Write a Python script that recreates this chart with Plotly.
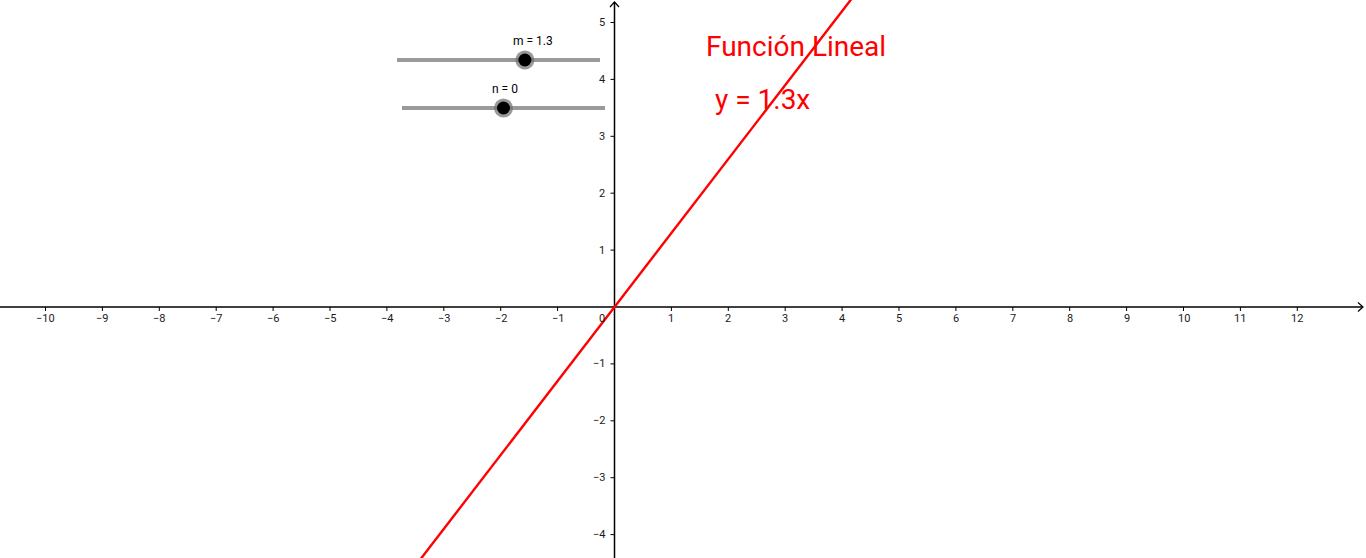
import plotly.graph_objects as go

# ---- data ----
slope_m = 1.3
intercept_n = 0.0
slider_min = -5
slider_max = 5
x_tick_values = [-10, -9, -8, -7, -6, -5, -4, -3, -2, -1, 1, 2, 3, 4, 5, 6, 7, 8, 9, 10, 11, 12]
y_tick_values = [-4, -3, -2, -1, 1, 2, 3, 4, 5]
title_text = "Función Lineal"
equation_text = "y = 1.3x"
m_label = "m = 1.3"
n_label = "n = 0"

# ---- geometry (pixel frame) ----
W, H = 1366, 558
OX, OY = 614.5, 307.0
PPU = 56.9

def dx(px):
    return (px - OX) / PPU

def dy(py):
    return (OY - py) / PPU

x_range = [dx(0), dx(W)]
y_range = [dy(H), dy(0)]

fig = go.Figure()

AX = "#000000"
# axes lines
fig.add_trace(go.Scatter(x=[x_range[0], dx(W - 3)], y=[0, 0], mode="lines",
                         line=dict(color=AX, width=1.5), hoverinfo="skip"))
fig.add_trace(go.Scatter(x=[0, 0], y=[y_range[0], dy(2)], mode="lines",
                         line=dict(color=AX, width=1.5), hoverinfo="skip"))
# arrow chevrons
a = 5 / PPU
xe, ye = dx(W - 3), dy(2)
fig.add_trace(go.Scatter(x=[xe - a, xe, xe - a], y=[a * 0.9, 0, -a * 0.9], mode="lines",
                         line=dict(color=AX, width=1.2), hoverinfo="skip"))
fig.add_trace(go.Scatter(x=[-a * 0.9, 0, a * 0.9], y=[ye - a, ye, ye - a], mode="lines",
                         line=dict(color=AX, width=1.2), hoverinfo="skip"))

# tick marks
t = 4 / PPU
tx, ty = [], []
for v in x_tick_values:
    tx += [v, v, None]
    ty += [0, -t, None]
for v in y_tick_values:
    tx += [0, -t, None]
    ty += [v, v, None]
fig.add_trace(go.Scatter(x=tx, y=ty, mode="lines", line=dict(color=AX, width=1),
                         hoverinfo="skip"))

def lab(v):
    return str(v).replace("-", "\u2212")

tick_font = dict(family="Roboto, DejaVu Sans, sans-serif", size=11, color="#1a1a1a")
annotations = []
for v in x_tick_values:
    annotations.append(dict(x=v, y=dy(318), text=lab(v), showarrow=False,
                            xanchor="center", yanchor="middle", font=tick_font))
for v in y_tick_values:
    annotations.append(dict(x=dx(607), y=v, text=lab(v), showarrow=False,
                            xanchor="right", yanchor="middle", font=tick_font))
annotations.append(dict(x=dx(607), y=dy(318), text="0", showarrow=False,
                        xanchor="right", yanchor="middle", font=tick_font))

# the function line
xs = [x_range[0], x_range[1]]
ys = [slope_m * x + intercept_n for x in xs]
fig.add_trace(go.Scatter(x=xs, y=ys, mode="lines", line=dict(color="#ff0000", width=2.4),
                         hoverinfo="skip"))

# sliders
def slider(val, px0, px1, py, label, label_px, label_py):
    x0, x1, yy = dx(px0), dx(px1), dy(py)
    fig.add_trace(go.Scatter(x=[x0, x1], y=[yy, yy], mode="lines",
                             line=dict(color="#9a9a9a", width=4), hoverinfo="skip"))
    frac = (val - slider_min) / (slider_max - slider_min)
    kx = x0 + frac * (x1 - x0)
    fig.add_trace(go.Scatter(x=[kx], y=[yy], mode="markers",
                             marker=dict(size=19, color="rgba(110,110,110,0.7)"),
                             hoverinfo="skip"))
    fig.add_trace(go.Scatter(x=[kx], y=[yy], mode="markers",
                             marker=dict(size=13, color="#000000"), hoverinfo="skip"))
    annotations.append(dict(x=dx(label_px), y=dy(label_py), text=label, showarrow=False,
                            xanchor="center", yanchor="middle",
                            font=dict(family="Roboto, DejaVu Sans, sans-serif", size=12,
                                      color="#000000")))

slider(slope_m, 397, 600, 60, m_label, 533, 41)
slider(intercept_n, 402, 605, 108, n_label, 505, 89)

red_font = dict(family="Roboto, sans-serif", size=28, color="#ff0000")
annotations.append(dict(x=dx(704), y=dy(46), text=title_text, showarrow=False,
                        xanchor="left", yanchor="middle", font=red_font))
annotations.append(dict(x=dx(713), y=dy(99), text=equation_text, showarrow=False,
                        xanchor="left", yanchor="middle", font=red_font))

fig.update_layout(
    width=W, height=H,
    margin=dict(l=0, r=0, t=0, b=0),
    paper_bgcolor="#ffffff", plot_bgcolor="#ffffff",
    showlegend=False,
    xaxis=dict(range=x_range, visible=False, fixedrange=True),
    yaxis=dict(range=y_range, visible=False, fixedrange=True),
    annotations=annotations,
)

fig.write_html("out.html", config={"displayModeBar": False},
               post_script="document.body.style.margin='0';document.body.style.overflow='hidden';")
